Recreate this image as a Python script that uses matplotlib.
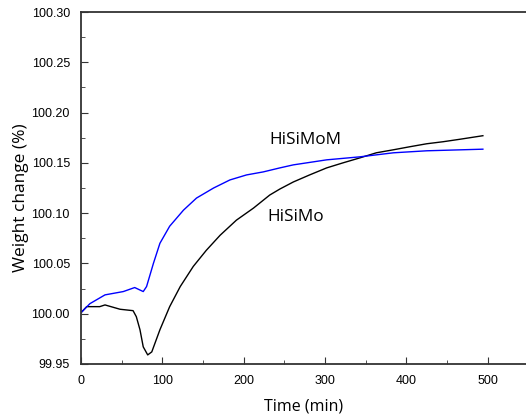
import numpy as np
import matplotlib
matplotlib.use("Agg")
import matplotlib.pyplot as plt
from matplotlib.ticker import MultipleLocator, FormatStrFormatter

# HiSiMoM (blue)
time_m = [0, 11, 29.5, 52, 66, 76.5, 80.6, 89, 97, 109, 126, 142, 163, 183,
          203.5, 224, 244.5, 261, 302, 343, 384, 425, 494]
weight_m = [100.001, 100.010, 100.0187, 100.022, 100.026, 100.022, 100.027,
            100.050, 100.070, 100.087, 100.103, 100.115, 100.125, 100.133,
            100.138, 100.141, 100.145, 100.148, 100.153, 100.156, 100.160,
            100.162, 100.1636]

# HiSiMo (black)
time_o = [0, 7, 23, 29.5, 48, 64, 68, 72.5, 76.5, 82, 87, 97, 109, 122, 138,
          154, 171, 191, 212, 232, 244.5, 261, 281, 302, 322, 343, 363, 384,
          404, 425, 445, 466, 494]
weight_o = [100.001, 100.007, 100.007, 100.0087, 100.0044, 100.003, 99.997,
            99.984, 99.967, 99.959, 99.962, 99.984, 100.007, 100.027, 100.047,
            100.063, 100.078, 100.093, 100.105, 100.118, 100.124, 100.131,
            100.138, 100.145, 100.150, 100.155, 100.160, 100.163, 100.166,
            100.169, 100.171, 100.1735, 100.177]

fig = plt.figure(figsize=(5.26, 4.15), dpi=100)
ax = fig.add_axes([0.154, 0.123, 0.846, 0.848])

ax.plot(time_o, weight_o, color="black", lw=1.0)
ax.plot(time_m, weight_m, color="blue", lw=1.0)

# curve labels
ax.text(232, 100.173, "HiSiMoM", fontsize=12.3, family="Open Sans", va="center")
ax.text(229, 100.096, "HiSiMo", fontsize=12.3, family="Open Sans", va="center")

ax.set_xlim(0, 547)
ax.set_ylim(99.95, 100.30)
ax.xaxis.set_major_locator(MultipleLocator(100))
ax.xaxis.set_minor_locator(MultipleLocator(50))
ax.yaxis.set_major_locator(MultipleLocator(0.05))
ax.yaxis.set_minor_locator(MultipleLocator(0.025))
ax.yaxis.set_major_formatter(FormatStrFormatter("%.2f"))
ax.tick_params(which="both", direction="in", labelsize=9, colors="#333333",
               labelcolor="black")
ax.tick_params(which="major", length=5, pad=8)
ax.tick_params(which="minor", length=3)
for lab in ax.get_xticklabels() + ax.get_yticklabels():
    lab.set_family("Liberation Sans")
ax.spines["right"].set_visible(False)
for s in ["left", "bottom", "top"]:
    ax.spines[s].set_linewidth(1.3)
    ax.spines[s].set_color("#333333")

ax.set_xlabel("Time (min)", fontsize=11.5, family="Open Sans", labelpad=8)
ax.set_ylabel("Weight change (%)", fontsize=12.5, family="Open Sans")
ax.yaxis.set_label_coords(-0.116, 0.472)

fig.savefig("out.png", dpi=100)
